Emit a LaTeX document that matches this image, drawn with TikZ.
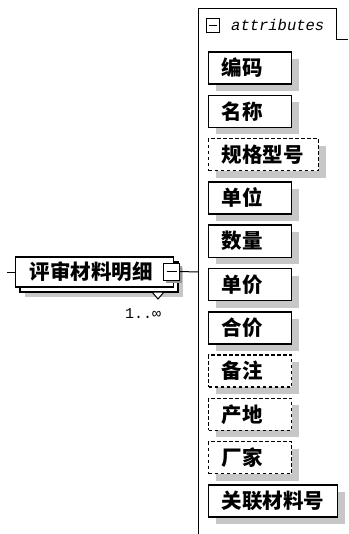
\documentclass[tikz,border=0pt]{standalone}
\usepackage{fontspec}
\newfontfamily\cjk{Noto Sans CJK SC}
\newfontfamily\monof{Liberation Mono}
\usetikzlibrary{shadows}
\tikzset{
  x=1pt, y=-1pt,
  shad/.style={drop shadow={shadow xshift=7pt, shadow yshift=-7pt, fill=black!22, opacity=1}},
  attrbox/.style={draw, line width=1.4pt, fill=white, shad, minimum height=32pt,
    inner xsep=13pt, inner ysep=0pt, text width=#1, align=left, anchor=west,
    font=\cjk\bfseries\fontsize{20.5}{20.5}\selectfont},
  optbox/.style={attrbox=#1, dash pattern=on 3.5pt off 2.5pt},
  minusbox/.style={draw, line width=1pt, fill=white, inner sep=0pt},
}
\begin{document}
\begin{tikzpicture}
\useasboundingbox (0,0) rectangle (348,534);
% attributes container
\draw[line width=1pt] (198,534) -- (198,9) -- (336,9) -- (336,40) -- (348,40);
\node[minusbox, minimum width=13pt, minimum height=14pt] (amin) at (212.5,25.5) {};
\draw[line width=1pt] ([xshift=-4pt]amin.center) -- ([xshift=4pt]amin.center);
\node[anchor=west, inner sep=0pt, font=\monof\itshape\fontsize{15.5}{15.5}\selectfont] (atxt) at (231,25) {attributes};
% attribute boxes
\node[attrbox=57pt] (a1) at (208,68.0) {编码};
\node[attrbox=57pt] (a2) at (208,111.3) {名称};
\node[optbox=84pt] (a3) at (208,154.6) {规格型号};
\node[attrbox=57pt] (a4) at (208,197.9) {单位};
\node[attrbox=57pt] (a5) at (208,241.2) {数量};
\node[attrbox=57pt] (a6) at (208,284.5) {单价};
\node[attrbox=57pt] (a7) at (208,327.8) {合价};
\node[optbox=57pt] (a8) at (208,371.1) {备注};
\node[optbox=57pt] (a9) at (208,414.4) {产地};
\node[optbox=57pt] (a10) at (208,457.7) {厂家};
\node[attrbox=103pt] (a11) at (208,501.0) {关联材料号};
% main element
\fill[black!22] (25,268) rectangle (183,297);
\draw[line width=1.3pt, fill=white] (20,262) rectangle (178,292);
\node[draw, line width=1.4pt, fill=white, minimum height=30pt, inner xsep=14pt, inner ysep=0pt,
  text width=130pt, align=left, anchor=west,
  font=\cjk\bfseries\fontsize{20.5}{20.5}\selectfont] (main) at (15,272) {评审材料明细};
\draw[line width=1pt, fill=white] (152,292) -- (164,292) -- (158,299) -- cycle;
\node[minusbox, minimum width=16pt, minimum height=17pt,
  drop shadow={shadow xshift=2.5pt, shadow yshift=-2.5pt, fill=black!40, opacity=1}] (mmin) at (171.5,271.5) {};
\draw[line width=1pt] ([xshift=-5pt]mmin.center) -- ([xshift=5pt]mmin.center);
\node[inner sep=0pt, font=\monof\fontsize{15}{15}\selectfont] (mult) at (143,314) {1..∞};
% connectors
\coordinate (lstart) at (7,272);
\coordinate (ajoin) at (198,272);
\draw[line width=1pt] (lstart) -- (main.west);
\draw[line width=1pt] (mmin.east) -- (ajoin);
\end{tikzpicture}
\end{document}
